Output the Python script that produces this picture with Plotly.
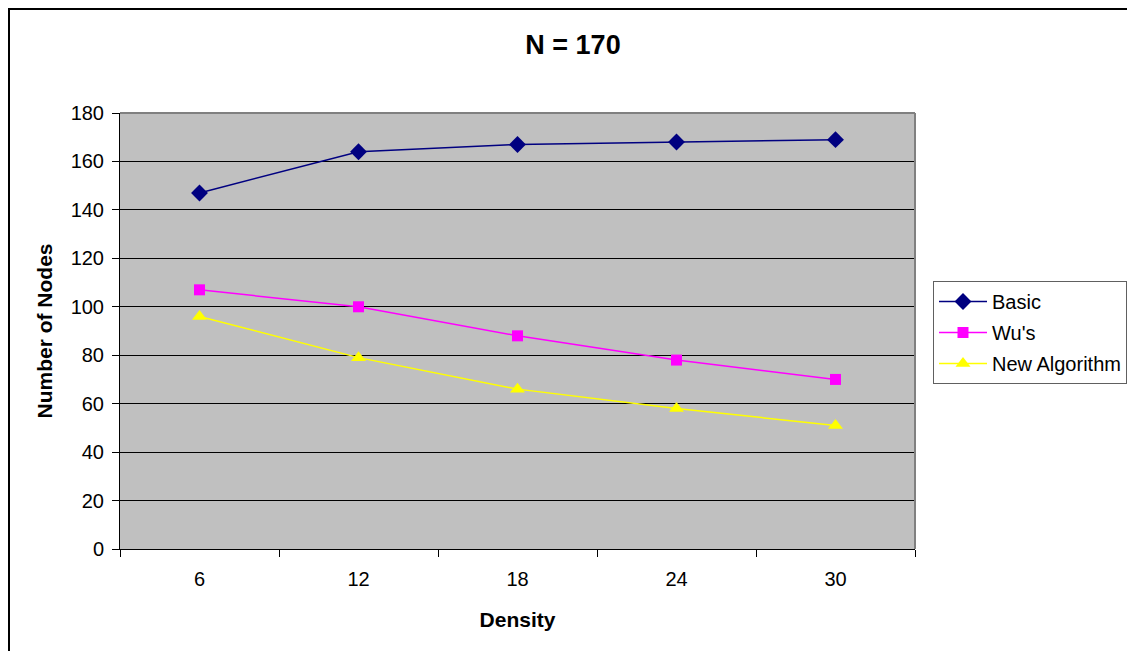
import plotly.graph_objects as go

categories = ["6", "12", "18", "24", "30"]
basic = [147, 164, 167, 168, 169]
wus = [107, 100, 88, 78, 70]
new_alg = [96, 79, 66, 58, 51]
y_ticks = [0, 20, 40, 60, 80, 100, 120, 140, 160, 180]

W, H = 1127, 651
L, R, T, B = 120, 915, 113, 549
pw, ph = R - L, B - T

def px_x(p):
    return (p - L) / pw

def px_y(p):
    return (B - p) / ph

FONT = "Liberation Sans, Arial, sans-serif"

fig = go.Figure()
fig.add_trace(go.Scatter(x=categories, y=basic, name="Basic", mode="lines+markers",
                         legendgroup="a",
                         line=dict(color="#000080", width=1.5),
                         marker=dict(symbol="diamond", size=13, color="#000080")))
fig.add_trace(go.Scatter(x=categories, y=wus, name="Wu's", mode="lines+markers",
                         legendgroup="b",
                         line=dict(color="#FF00FF", width=1.5),
                         marker=dict(symbol="square", size=11, color="#FF00FF")))
fig.add_trace(go.Scatter(x=categories, y=new_alg, name="New Algorithm", mode="lines+markers",
                         legendgroup="c",
                         line=dict(color="#FFFF00", width=1.5),
                         marker=dict(symbol="triangle-up", size=13, color="#FFFF00")))

fig.update_layout(
    width=W, height=H,
    margin=dict(l=L, r=W - R, t=T, b=H - B, autoexpand=False),
    paper_bgcolor="white",
    plot_bgcolor="#C0C0C0",
    font=dict(family=FONT, size=20, color="black"),
    title=dict(text="<b>N = 170</b>", x=573 / W, xref="container", xanchor="center",
               y=1 - 45 / H, yref="container", yanchor="middle",
               font=dict(size=27, family=FONT, color="black")),
    showlegend=True,
    legend=dict(x=px_x(933), y=px_y(281), xanchor="left", yanchor="top",
                bgcolor="white", bordercolor="#606060", borderwidth=1,
                font=dict(size=20, family=FONT), itemwidth=48,
                traceorder="grouped", tracegroupgap=2),
    xaxis=dict(type="category", tickson="boundaries", ticks="outside", ticklen=7,
               tickcolor="black", showline=True, linecolor="black", linewidth=1,
               showgrid=False, zeroline=False, range=[-0.5, 4.5],
               tickfont=dict(size=20), ticklabelstandoff=12,
               title=dict(text="<b>Density</b>", font=dict(size=21), standoff=23)),
    yaxis=dict(range=[0, 180], tickvals=y_ticks, ticks="outside", ticklen=7,
               tickcolor="black", showline=True, linecolor="black", linewidth=1,
               showgrid=True, gridcolor="black", gridwidth=1, zeroline=False,
               tickfont=dict(size=20), ticklabelstandoff=4,
               title=dict(text="<b>Number of Nodes</b>", font=dict(size=21), standoff=12)),
    shapes=[
        dict(type="line", xref="paper", yref="paper", x0=0, x1=1, y0=1, y1=1,
             line=dict(color="#808080", width=2)),
        dict(type="line", xref="paper", yref="paper", x0=1, x1=1, y0=0, y1=1,
             line=dict(color="#808080", width=2)),
        dict(type="rect", xref="paper", yref="paper",
             x0=px_x(9), x1=px_x(W + 50), y0=px_y(9), y1=px_y(H + 50),
             line=dict(color="black", width=2), layer="below"),
    ],
)

fig.write_html("out.html")
